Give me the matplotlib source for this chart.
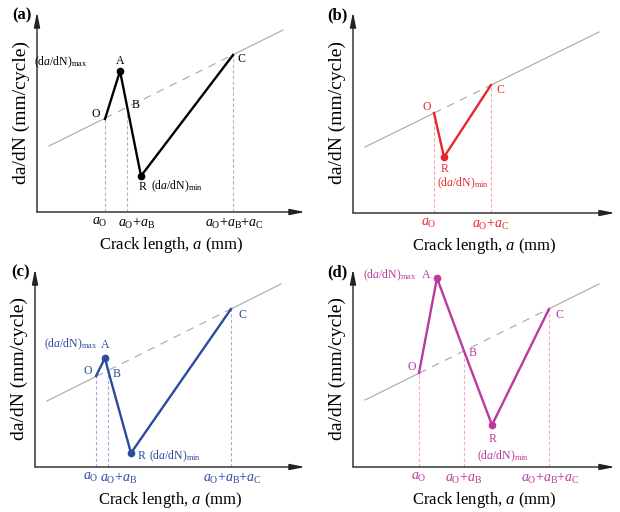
import matplotlib.pyplot as plt
from matplotlib.transforms import ScaledTranslation

plt.rcParams.update(
    {
        "font.family": "Liberation Serif",
        "mathtext.fontset": "custom",
        "mathtext.rm": "Liberation Serif",
        "mathtext.it": "Liberation Serif:italic",
        "mathtext.bf": "Liberation Serif:bold",
    }
)

# schematic coordinates, origin at the corner of each panel's axes
BASE_X = [12, 246]

# (a) O, A, B, R, C
a_x = [68, 83, 90, 104, 196]
a_y = [93, 141, 106, 36, 157]
a_base_y = [66, 182]
a_names = ["O", "A", "B", "R", "C"]

# (b) O, R, C
b_x = [81, 91, 138]
b_y = [100, 56, 128]
b_base_y = [66, 181]
b_names = ["O", "R", "C"]

# (c) O, A, B, R, C
c_x = [61, 70, 73, 96, 196]
c_y = [91, 109, 97, 14, 158]
c_base_y = [66, 183]
c_names = ["O", "A", "B", "R", "C"]

# (d) O, A, B, R, C
d_x = [66, 84, 111, 139, 196]
d_y = [94, 189, 116, 42, 158]
d_base_y = [67, 183]
d_names = ["O", "A", "B", "R", "C"]

TICK_O = r"$a_{\rm O}$"
TICK_OB = r"$a_{\rm O}{+}a_{\rm B}$"
TICK_OC = r"$a_{\rm O}{+}a_{\rm C}$"
TICK_OBC = r"$a_{\rm O}{+}a_{\rm B}{+}a_{\rm C}$"
MAX_TXT = r"(d$a$/dN)$_{\rm max}$"
MIN_TXT = r"(d$a$/dN)$_{\rm min}$"

W, H = 620, 512
fig = plt.figure(figsize=(W / 100, H / 100), dpi=100)


def make_axes(left, xaxis_y, width, height):
    return fig.add_axes([left / W, (H - xaxis_y) / H, width / W, height / H])


def draw_panel(ax, tag, xs, ys, names, base_y, ticks, tick_labels, tick_shift,
               color, light, dots, labels, xmax, ymax):
    ax.set_xlim(0, xmax)
    ax.set_ylim(0, ymax)
    for s in ax.spines.values():
        s.set_visible(False)
    arrow = dict(arrowstyle="-|>,head_length=0.9,head_width=0.18", lw=1.0,
                 color="#222222", shrinkA=0, shrinkB=0)
    ax.annotate("", xy=(1, 0), xytext=(0, 0), xycoords="axes fraction",
                arrowprops=arrow)
    ax.annotate("", xy=(0, 1), xytext=(0, 0), xycoords="axes fraction",
                arrowprops=arrow)

    # baseline: solid outside O..C, dashed between
    pts = dict(zip(names, zip(xs, ys)))
    slope = (base_y[1] - base_y[0]) / (BASE_X[1] - BASE_X[0])
    line_at = lambda x: base_y[0] + (x - BASE_X[0]) * slope
    xo, xc = pts["O"][0], pts["C"][0]
    gray = "#a8a8a8"
    ax.plot([BASE_X[0], xo], [base_y[0], line_at(xo)], color=gray, lw=0.8)
    ax.plot([xo, xc], [line_at(xo), line_at(xc)], color=gray, lw=0.8,
            dashes=(7, 6))
    ax.plot([xc, BASE_X[1]], [line_at(xc), base_y[1]], color=gray, lw=0.8)

    # vertical guides
    for n in ticks:
        x, y = pts[n]
        ax.plot([x, x], [0, y], color=light, lw=0.8, dashes=(3, 2))

    ax.plot(xs, ys, color=color, lw=1.7, solid_joinstyle="miter")
    for n in dots:
        ax.plot(*pts[n], "o", color=color, ms=4.5)

    for n, txt, dx, dy, ha in labels:
        ax.annotate(txt, xy=pts[n], xytext=(dx, dy), textcoords="offset pixels",
                    ha=ha, va="center", fontsize=8.5, color=color)

    ax.set_xticks([pts[n][0] for n in ticks], tick_labels, color=color,
                  fontsize=10)
    ax.tick_params(axis="x", length=0, pad=3)
    for lab, dx in zip(ax.get_xticklabels(), tick_shift):
        lab.set_transform(lab.get_transform()
                          + ScaledTranslation(dx / 100, 0, fig.dpi_scale_trans))
    ax.set_yticks([])
    ax.set_xlabel(r"Crack length, $a$ (mm)", fontsize=12, labelpad=3)
    ax.set_ylabel("da/dN (mm/cycle)", fontsize=14, labelpad=5)
    ax.text(-0.02, 0.985, tag, transform=ax.transAxes, ha="right", va="center",
            fontsize=12, fontweight="bold")


ax_a = make_axes(37, 212, 268, 200)
draw_panel(
    ax_a, "(a)", a_x, a_y, a_names, a_base_y, ["O", "B", "C"],
    [TICK_O, TICK_OB, TICK_OBC], [-5, 10, 1], "black", "#b4b4b4", ["A", "R"],
    [("A", "A", 0, 10, "center"), ("A", MAX_TXT, -33, 9, "right"),
     ("O", "O", -9, 5, "center"), ("B", "B", 9, 1, "center"),
     ("R", "R", 2, -11, "center"), ("R", MIN_TXT, 10, -10, "left"),
     ("C", "C", 8, -4, "center")],
    268, 200,
)

ax_b = make_axes(353, 213, 262, 201)
draw_panel(
    ax_b, "(b)", b_x, b_y, b_names, b_base_y, ["O", "C"],
    [TICK_O, TICK_OC], [-5, 0], "#e8262d", "#f6a9ad", ["R"],
    [("O", "O", -7, 6, "center"), ("C", "C", 9, -5, "center"),
     ("R", "R", 1, -12, "center"), ("R", MIN_TXT, 19, -26, "center")],
    262, 201,
)

ax_c = make_axes(35, 467, 270, 198)
draw_panel(
    ax_c, "(c)", c_x, c_y, c_names, c_base_y, ["O", "B", "C"],
    [TICK_O, TICK_OB, TICK_OBC], [-5, 11, 1], "#2c4a9e", "#a3acd8", ["A", "R"],
    [("A", "A", 0, 13, "center"), ("A", MAX_TXT, -8, 14, "right"),
     ("O", "O", -8, 5, "center"), ("B", "B", 9, -4, "center"),
     ("R", "R", 11, -3, "center"), ("R", MIN_TXT, 18, -3, "left"),
     ("C", "C", 11, -6, "center")],
    270, 198,
)

ax_d = make_axes(353, 467, 262, 198)
draw_panel(
    ax_d, "(d)", d_x, d_y, d_names, d_base_y, ["O", "B", "C"],
    [TICK_O, TICK_OB, TICK_OBC], [0, 0, 1], "#bb3a9c", "#f3a8cc", ["A", "R"],
    [("A", "A", -11, 3, "center"), ("A", MAX_TXT, -21, 3, "right"),
     ("O", "O", -7, 6, "center"), ("B", "B", 9, -2, "center"),
     ("R", "R", 1, -14, "center"), ("R", MIN_TXT, 11, -31, "center"),
     ("C", "C", 10, -6, "center")],
    262, 198,
)

fig.savefig("out.png", dpi=100)
